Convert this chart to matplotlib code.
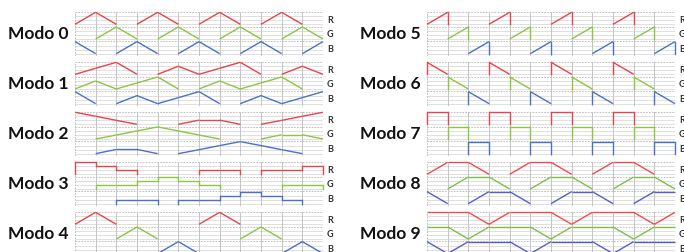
import matplotlib
matplotlib.use("Agg")
import matplotlib.pyplot as plt

# ---------------- data ----------------
# "linear": 13 node values at beat boundaries 0..12
# "step": 12 column levels; "saw_up"/"saw_down": 12 column amplitudes
MODES = ["Modo 0", "Modo 1", "Modo 2", "Modo 3", "Modo 4",
         "Modo 5", "Modo 6", "Modo 7", "Modo 8", "Modo 9"]
KINDS = ["linear", "linear", "linear", "step", "linear",
         "saw_up", "saw_down", "step", "linear", "linear"]
CHANNELS = ["R", "G", "B"]

MODO0_R = [0, 1, 0, 0, 1, 0, 0, 1, 0, 0, 1, 0, 0]
MODO0_G = [0, 0, 1, 0, 0, 1, 0, 0, 1, 0, 0, 1, 0]
MODO0_B = [1, 0, 0, 1, 0, 0, 1, 0, 0, 1, 0, 0, 1]

MODO1_R = [0, 0.5, 1, 0, 0, 0.67, 0, 0.5, 1, 0, 0, 0.67, 0]
MODO1_G = [0, 0.67, 0, 0.5, 1, 0, 0, 0.67, 0, 0.5, 1, 0, 0]
MODO1_B = [1, 0, 0, 0.67, 0, 0.5, 1, 0, 0, 0.67, 0, 0.5, 1]

MODO2_R = [1, 0.67, 0.33, 0, 0, 0, 0.35, 0.35, 0, 0, 0.33, 0.67, 1]
MODO2_G = [0, 0, 0.33, 0.67, 1, 0.67, 0.33, 0, 0, 0, 0.35, 0.35, 0]
MODO2_B = [0, 0, 0.35, 0.35, 0, 0, 0.33, 0.67, 1, 0.67, 0.33, 0, 0]

MODO3_R = [1, 0.67, 0.33, 0, 0, 0, 0.33, 0.33, 0, 0.33, 0.33, 0.67]
MODO3_G = [0, 0.33, 0.33, 0.67, 1, 0.67, 0.33, 0, 0, 0, 0.33, 0.33]
MODO3_B = [0, 0, 0.33, 0.33, 0, 0.33, 0.33, 0.67, 1, 0.67, 0.33, 0]

MODO4_R = [0, 1, 0, 0, 0, 0, 0, 1, 0, 0, 0, 0, 0]
MODO4_G = [0, 0, 0, 1, 0, 0, 0, 0, 0, 1, 0, 0, 0]
MODO4_B = [0, 0, 0, 0, 0, 1, 0, 0, 0, 0, 0, 1, 0]

MODO5_R = [1, 0, 0, 1, 0, 0, 1, 0, 0, 1, 0, 0]
MODO5_G = [0, 1, 0, 0, 1, 0, 0, 1, 0, 0, 1, 0]
MODO5_B = [0, 0, 1, 0, 0, 1, 0, 0, 1, 0, 0, 1]

MODO6_R = [1, 0, 0, 1, 0, 0, 1, 0, 0, 1, 0, 0]
MODO6_G = [0, 1, 0, 0, 1, 0, 0, 1, 0, 0, 1, 0]
MODO6_B = [0, 0, 1, 0, 0, 1, 0, 0, 1, 0, 0, 1]

MODO7_R = [1, 0, 0, 1, 0, 0, 1, 0, 0, 1, 0, 0]
MODO7_G = [0, 1, 0, 0, 1, 0, 0, 1, 0, 0, 1, 0]
MODO7_B = [0, 0, 1, 0, 0, 1, 0, 0, 1, 0, 0, 1]

MODO8_R = [0, 1, 1, 0, 0, 1, 1, 0, 0, 1, 1, 0, 0]
MODO8_G = [0, 0, 1, 1, 0, 0, 1, 1, 0, 0, 1, 1, 0]
MODO8_B = [1, 0, 0, 1, 1, 0, 0, 1, 1, 0, 0, 1, 1]

MODO9_R = [1, 1, 1, 0, 1, 1, 1, 0, 1, 1, 1, 0, 1]
MODO9_G = [1, 1, 0, 1, 1, 1, 0, 1, 1, 1, 0, 1, 1]
MODO9_B = [1, 0, 1, 1, 1, 0, 1, 1, 1, 0, 1, 1, 1]

SERIES = [
    (MODO0_R, MODO0_G, MODO0_B), (MODO1_R, MODO1_G, MODO1_B),
    (MODO2_R, MODO2_G, MODO2_B), (MODO3_R, MODO3_G, MODO3_B),
    (MODO4_R, MODO4_G, MODO4_B), (MODO5_R, MODO5_G, MODO5_B),
    (MODO6_R, MODO6_G, MODO6_B), (MODO7_R, MODO7_G, MODO7_B),
    (MODO8_R, MODO8_G, MODO8_B), (MODO9_R, MODO9_G, MODO9_B),
]

COLORS = {"R": "#e0474f", "G": "#8cc640", "B": "#4a72c4"}
COLORS_ALT = {"R": "#ee4c52", "G": "#7cc04a", "B": "#5560c4"}

# ---------------- layout ----------------
W, H = 684, 252
fig = plt.figure(figsize=(W / 100, H / 100), dpi=100)
fig.patch.set_facecolor("white")

PANEL_W = 248
PANEL_H = 44
LEFT_X = [75, 427]
LABEL_X = [8, 360]
TOPS = [12, 62, 112, 162, 212]

LO, AMP = 0.16, 0.82


def yv(row, v):
    return row + LO + AMP * v


def segments(kind, vals):
    if kind == "linear":
        return list(vals[:-1]), list(vals[1:])
    if kind == "step":
        return list(vals), list(vals)
    if kind == "saw_up":
        return [0] * len(vals), list(vals)
    return list(vals), [0] * len(vals)


for i, (name, kind, ser) in enumerate(zip(MODES, KINDS, SERIES)):
    col = i // 5
    top = TOPS[i % 5]
    x0 = LEFT_X[col]
    ax = fig.add_axes([x0 / W, 1 - (top + PANEL_H) / H, PANEL_W / W, PANEL_H / H])
    ax.set_xlim(0, 12)
    ax.set_ylim(0, 3)
    ax.axis("off")

    # grid
    for r in range(3):
        for lv in (0, 1 / 3, 2 / 3):
            ax.axhline(yv(r, lv), color="#dadada", lw=0.6, zorder=1)
    for b in range(4):
        ax.axhline(b, color="#b4b4b4", lw=0.6, ls=(0, (2, 1.5)), zorder=1)
    for k in range(1, 12):
        ax.axvline(k, color="#c4c4c4", lw=0.7, zorder=1)
    for xb in (0, 12):
        ax.axvline(xb, color="#b4b4b4", lw=0.6, ls=(0, (2, 1.5)), zorder=1)

    cols = COLORS_ALT if i in (8, 9) else COLORS
    for ci, (ch, vals) in enumerate(zip(CHANNELS, ser)):
        row = 2 - ci
        c = cols[ch]
        st, en = segments(kind, vals)
        n = len(st)
        for k in range(n):
            if st[k] != 0 or en[k] != 0:
                ax.plot([k, k + 1], [yv(row, st[k]), yv(row, en[k])],
                        color=c, lw=1.0, solid_capstyle="butt", zorder=3,
                        clip_on=False)
        if kind != "linear":
            for b in range(n + 1):
                prev = en[b - 1] if b > 0 else 0
                nxt = st[b] if b < n else 0
                if prev != nxt:
                    ax.plot([b, b], [yv(row, prev), yv(row, nxt)],
                            color=c, lw=1.0, zorder=3, clip_on=False)
        fig.text((x0 + PANEL_W + 4) / W, 1 - (top + PANEL_H * (ci + 0.55) / 3) / H,
                 ch, fontsize=6.5, fontweight="bold", color="#333333",
                 va="center", ha="left", family=["Lato", "DejaVu Sans"])

    fig.text(LABEL_X[col] / W, 1 - (top + PANEL_H / 2) / H, name,
             fontsize=12.5, fontweight="bold", color="#111111",
             va="center", ha="left", family=["Lato", "DejaVu Sans"])

fig.savefig("out.png", dpi=100, facecolor="white")
